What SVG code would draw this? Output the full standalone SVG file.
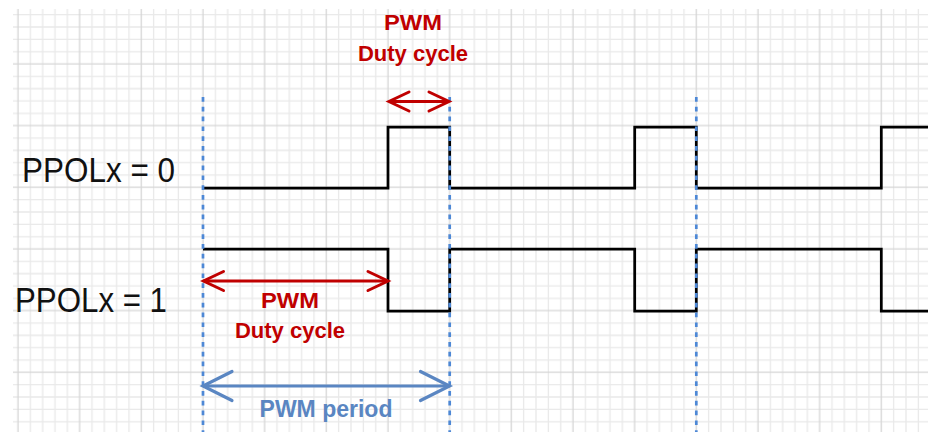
<svg xmlns="http://www.w3.org/2000/svg" width="928" height="432" viewBox="0 0 928 432">
  <style>
    .wave { fill: none; stroke: #000; stroke-width: 2.75; stroke-linejoin: miter; }
    .period { stroke: #4d88d6; stroke-width: 2.7; stroke-dasharray: 4.7 5.1; }
    .dim-red { fill: none; stroke: #c00000; stroke-width: 3; }
    .dim-blue { fill: none; stroke: #5a86c2; stroke-width: 3.2; }
    .signal-name { font-family: "Liberation Sans", Arial, sans-serif; font-size: 35px; fill: #111; }
    .red-label { font-family: "Liberation Sans", Arial, sans-serif; font-size: 22px; font-weight: bold; fill: #c00000; text-anchor: middle; }
    .blue-label { font-family: "Liberation Sans", Arial, sans-serif; font-size: 23px; font-weight: bold; fill: #5a86c2; text-anchor: middle; }
  </style>
  <defs>
    <!-- squared paper: minor cell 12.333px, heavier line every 5 cells -->
    <pattern id="grid" patternUnits="userSpaceOnUse" x="11.833" y="57.833" width="61.667" height="61.667">
      <path d="M18.5 0V61.667M30.833 0V61.667M43.167 0V61.667M55.5 0V61.667M0 18.5H61.667M0 30.833H61.667M0 43.167H61.667M0 55.5H61.667" stroke="#e9e9e9" stroke-width="1.3" fill="none"/>
      <path d="M6.167 0V61.667M0 6.167H61.667" stroke="#d6d6d6" stroke-width="1.3" fill="none"/>
    </pattern>
    <marker id="chevron-red" markerUnits="userSpaceOnUse" viewBox="-26 -15 30 30" refX="0" refY="0" markerWidth="30" markerHeight="30" orient="auto-start-reverse" overflow="visible">
      <path d="M-20 -9.5L0 0L-20 9.5" fill="none" stroke="#c00000" stroke-width="3" stroke-linecap="round"/>
    </marker>
    <marker id="chevron-blue" markerUnits="userSpaceOnUse" viewBox="-36 -20 40 40" refX="0" refY="0" markerWidth="40" markerHeight="40" orient="auto-start-reverse" overflow="visible">
      <path d="M-29 -14.5L0 0L-29 14.5" fill="none" stroke="#5a86c2" stroke-width="3.2" stroke-linecap="round"/>
    </marker>
  </defs>

  <rect width="928" height="432" fill="#fff"/>
  <g id="grid-paper">
    <rect x="13" y="9" width="915" height="423" fill="url(#grid)"/>
  </g>

  <!-- output waveforms for both polarity settings -->
  <g id="waveforms">
    <path id="wave-ppol0" class="wave" d="M203 188H388V127H449.7V188H634.7V127H696.3V188H881.3V127H930"/>
    <path id="wave-ppol1" class="wave" d="M203 249H388V311H449.7V249H634.7V311H696.3V249H881.3V311H930"/>
  </g>

  <!-- period boundaries -->
  <g id="period-markers">
    <line class="period" x1="203" y1="97" x2="203" y2="432"/>
    <line class="period" x1="449.7" y1="97" x2="449.7" y2="432"/>
    <line class="period" x1="696.3" y1="97" x2="696.3" y2="432"/>
  </g>

  <g id="connectors">
    <line id="duty-top" class="dim-red" x1="389" y1="101.5" x2="449" y2="101.5" marker-start="url(#chevron-red)" marker-end="url(#chevron-red)"/>
    <line id="duty-bottom" class="dim-red" x1="203.5" y1="281" x2="388" y2="281" marker-start="url(#chevron-red)" marker-end="url(#chevron-red)"/>
    <line id="period-span" class="dim-blue" x1="203" y1="386" x2="449.5" y2="386" marker-start="url(#chevron-blue)" marker-end="url(#chevron-blue)"/>
  </g>

  <g id="label-ppol0">
    <text class="signal-name" x="22" y="182" textLength="153" lengthAdjust="spacingAndGlyphs">PPOLx = 0</text>
  </g>
  <g id="label-ppol1">
    <text class="signal-name" x="15" y="312" textLength="152" lengthAdjust="spacingAndGlyphs">PPOLx = 1</text>
  </g>
  <g id="label-duty-top">
    <text class="red-label" x="413" y="30" textLength="58" lengthAdjust="spacingAndGlyphs">PWM</text>
    <text class="red-label" x="413" y="61">Duty cycle</text>
  </g>
  <g id="label-duty-bottom">
    <text class="red-label" x="290" y="308" textLength="58" lengthAdjust="spacingAndGlyphs">PWM</text>
    <text class="red-label" x="290" y="338">Duty cycle</text>
  </g>
  <g id="label-period">
    <text class="blue-label" x="326" y="417">PWM period</text>
  </g>
</svg>
